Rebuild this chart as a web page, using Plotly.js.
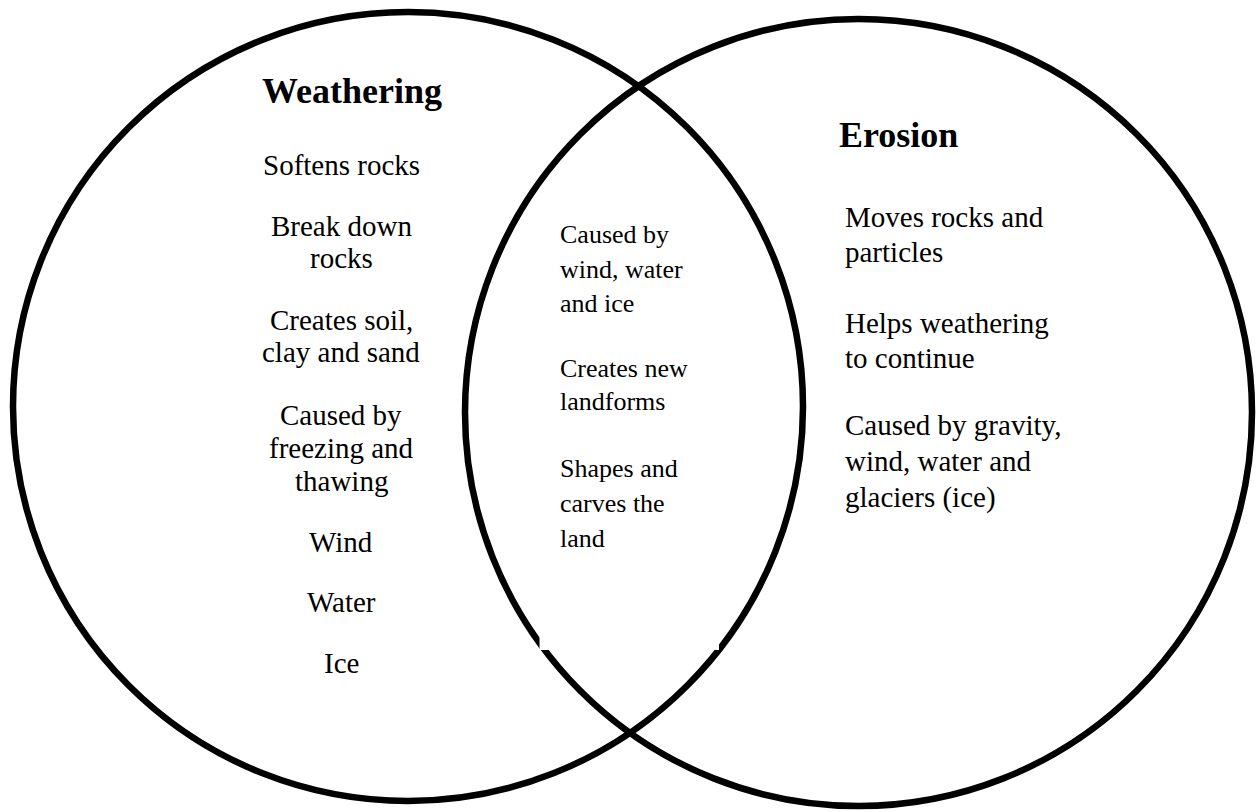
<!DOCTYPE html>
<html>
<head>
<meta charset="utf-8">
<script src="https://cdn.plot.ly/plotly-3.0.1.min.js"></script>
<style>html,body{margin:0;padding:0;background:#fff;}#chart{width:1258px;height:812px;}</style>
</head>
<body>
<div id="chart"></div>
<script>
// ---- data ----
const setNames = ['Weathering', 'Erosion'];
const weatheringOnly = [
  ['Softens rocks'],
  ['Break down', 'rocks'],
  ['Creates soil,', 'clay and sand'],
  ['Caused by', 'freezing and', 'thawing'],
  ['Wind'],
  ['Water'],
  ['Ice']
];
const bothSets = [
  ['Caused by', 'wind, water', 'and ice'],
  ['Creates new', 'landforms'],
  ['Shapes and', 'carves the', 'land']
];
const erosionOnly = [
  ['Moves rocks and', 'particles'],
  ['Helps weathering', 'to continue'],
  ['Caused by gravity,', 'wind, water and', 'glaciers (ice)']
];

// ---- layout (positions in pixel-like data units) ----
const W = 1258, H = 812;
const FONT = '"Liberation Serif", "Times New Roman", serif';
const circles = [
  {x0: 13, x1: 803, y0: 12, y1: 801},
  {x0: 465, x1: 1252, y0: 19, y1: 806}
];
const leftBaselines = [[175], [236, 268], [330, 362], [425, 458, 491], [552], [612], [673]];
const midBaselines = [[243, 278, 312], [377, 410], [477, 512, 547]];
const rightBaselines = [[227, 262], [333, 368], [435, 471, 507]];
const titlePos = [{x: 352, b: 103, anchor: 'center'}, {x: 838, b: 147, anchor: 'left'}];

function mid(b, size) { return b - 0.3375 * size; }

const annotations = [];
function addText(text, x, baseline, size, anchor, bold) {
  annotations.push({
    x: x, y: mid(baseline, size), xref: 'x', yref: 'y',
    text: bold ? '<b>' + text + '</b>' : text,
    showarrow: false, xanchor: anchor, yanchor: 'middle',
    font: {family: FONT, size: size, color: '#000'},
    borderpad: 0
  });
}
setNames.forEach((n, i) => addText(n, titlePos[i].x, titlePos[i].b, 36, titlePos[i].anchor, true));
weatheringOnly.forEach((item, i) => item.forEach((ln, j) => addText(ln, 341, leftBaselines[i][j], 29, 'center', false)));
bothSets.forEach((item, i) => item.forEach((ln, j) => addText(ln, 559, midBaselines[i][j], 26, 'left', false)));
erosionOnly.forEach((item, i) => item.forEach((ln, j) => addText(ln, 844, rightBaselines[i][j], 29, 'left', false)));

const shapes = circles.map(c => ({
  type: 'circle', xref: 'x', yref: 'y', x0: c.x0, x1: c.x1, y0: c.y0, y1: c.y1,
  line: {color: '#000', width: 6.5}, fillcolor: 'rgba(0,0,0,0)', layer: 'above'
}));
// white text box of the middle column that slightly clips the arcs
shapes.push({type: 'rect', xref: 'x', yref: 'y', x0: 539.5, x1: 719, y0: 195, y1: 650,
  line: {width: 0}, fillcolor: '#fff', layer: 'above'});

const layout = {
  width: W, height: H,
  margin: {l: 0, r: 0, t: 0, b: 0, pad: 0},
  paper_bgcolor: '#fff', plot_bgcolor: '#fff',
  xaxis: {range: [0, W], visible: false, fixedrange: true},
  yaxis: {range: [H, 0], visible: false, fixedrange: true},
  showlegend: false,
  shapes: shapes,
  annotations: annotations
};
Plotly.newPlot('chart', [{x: [], y: [], type: 'scatter', mode: 'markers', hoverinfo: 'skip'}], layout, {staticPlot: true, displayModeBar: false});
</script>
</body>
</html>
